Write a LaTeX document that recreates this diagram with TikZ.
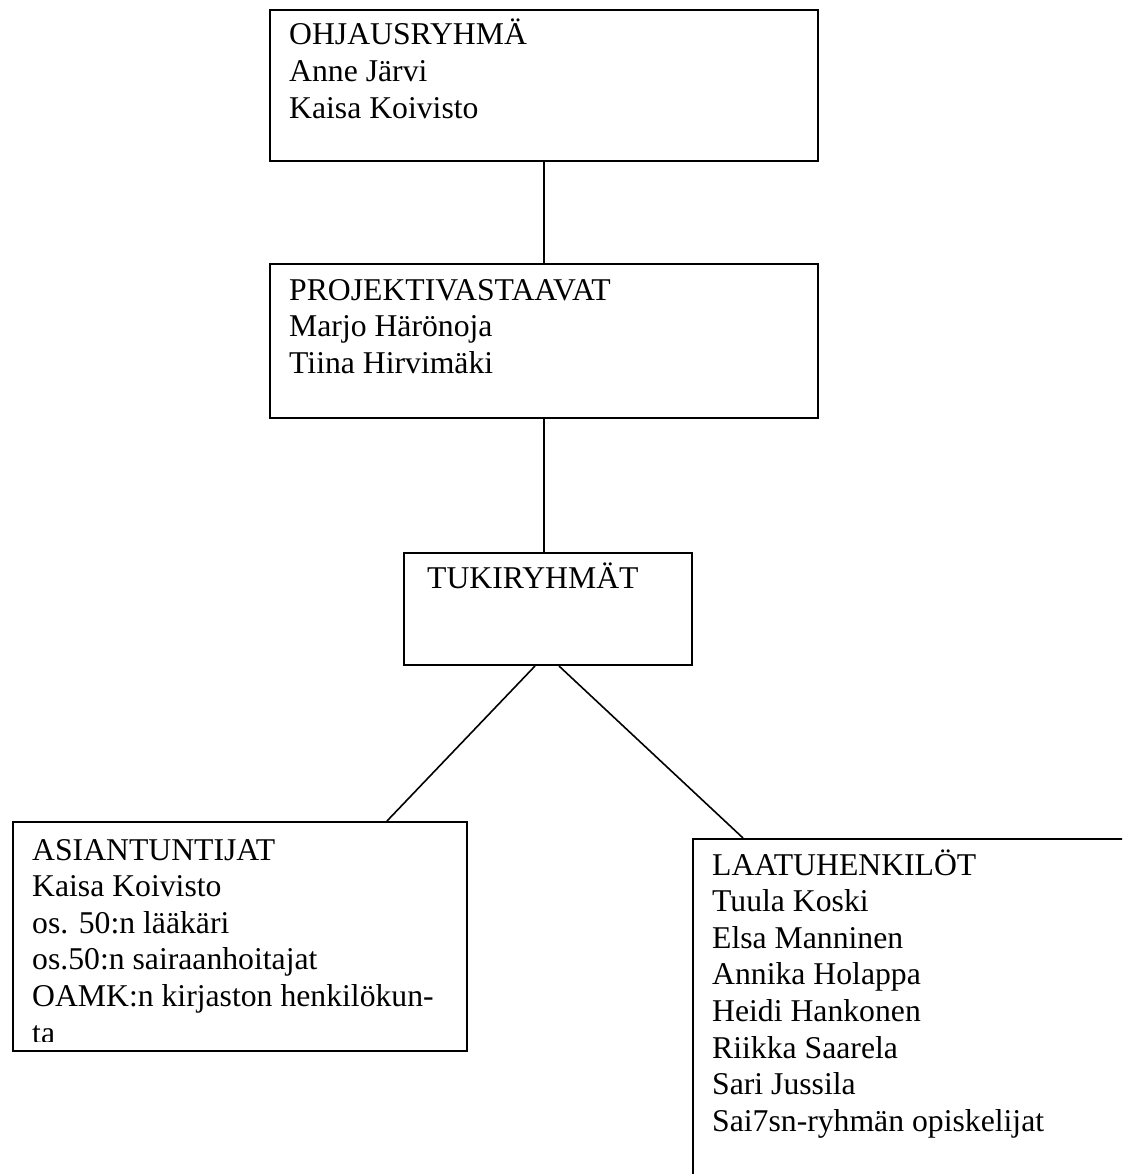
\documentclass[tikz,border=0pt]{standalone}
\usepackage{fontspec}
\setmainfont{Liberation Serif}
\begin{document}
\begin{tikzpicture}[x=1pt,y=-1pt,
  box/.style={draw, line width=2pt, rectangle, inner sep=0pt, anchor=north west},
  txt/.style={inner sep=0pt, anchor=base west, font=\fontsize{31.7}{36.6}\selectfont},
  conn/.style={line width=1.6pt}]
\clip (0,0) rectangle (1122,1174);
% boxes
\node[box, minimum width=548pt, minimum height=151pt] (ohj) at (269,9) {};
\node[box, minimum width=548pt, minimum height=154pt] (proj) at (269,263) {};
\node[box, minimum width=288pt, minimum height=112pt] (tuki) at (403,552) {};
\node[box, minimum width=454pt, minimum height=229pt] (asi) at (12,821) {};
\node[box, minimum width=480pt, minimum height=400pt] (laa) at (692,838) {};
% texts
\node[txt] (ohjt) at ([shift={(20,36)}]ohj.north west)
  {\begin{tabular}[t]{@{}l@{}}OHJAUSRYHMÄ\\Anne Järvi\\Kaisa Koivisto\end{tabular}};
\node[txt] (projt) at ([shift={(20,37)}]proj.north west)
  {\begin{tabular}[t]{@{}l@{}}PROJEKTIVASTAAVAT\\Marjo Härönoja\\Tiina Hirvimäki\end{tabular}};
\node[txt] (tukit) at ([shift={(24,36)}]tuki.north west) {TUKIRYHMÄT};
\begin{scope}
\clip (asi.north west) rectangle ([yshift=11pt]asi.south east);
\node[txt] (asit) at ([shift={(20,39)}]asi.north west)
  {\begin{tabular}[t]{@{}l@{}}ASIANTUNTIJAT\\Kaisa Koivisto\\os. 50:n lääkäri\\os.50:n sairaanhoitajat\\OAMK:n kirjaston henkilökun-\\ta\end{tabular}};
\end{scope}
\node[txt] (laat) at ([shift={(20,37)}]laa.north west)
  {\begin{tabular}[t]{@{}l@{}}LAATUHENKILÖT\\Tuula Koski\\Elsa Manninen\\Annika Holappa\\Heidi Hankonen\\Riikka Saarela\\Sari Jussila\\Sai7sn-ryhmän opiskelijat\end{tabular}};
% connectors
\draw[conn] (ohj.south) -- (proj.north);
\draw[conn] (proj.south) -- (proj.south |- tuki.north);
\draw[conn] ([xshift=-13pt]tuki.south) -- ([xshift=147pt]asi.north);
\draw[conn] ([xshift=11pt]tuki.south) -- ([xshift=51pt]laa.north west);
\end{tikzpicture}
\end{document}
